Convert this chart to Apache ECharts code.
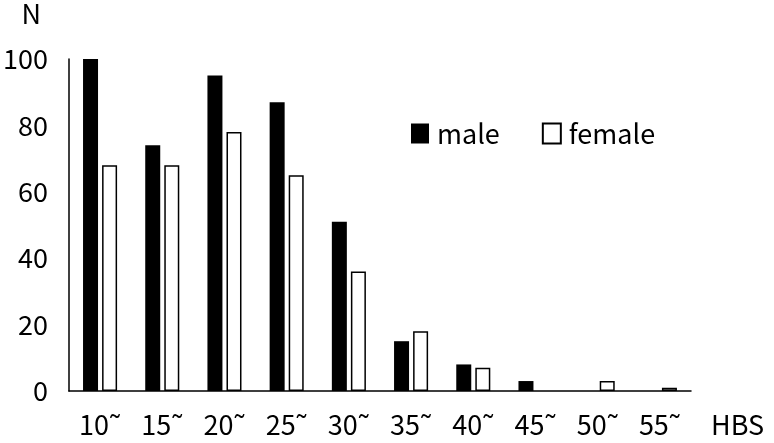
<!DOCTYPE html>
<html>
<head>
<meta charset="utf-8">
<script src="https://cdn.jsdelivr.net/npm/echarts@6/dist/echarts.min.js"></script>
<style>
  html, body { margin: 0; padding: 0; background: #fff; }
  #chart { width: 774px; height: 443px; }
</style>
</head>
<body>
<div id="chart"></div>
<script>
// HBS 区分
const categories = ['10˜', '15˜', '20˜', '25˜', '30˜', '35˜', '40˜', '45˜', '50˜', '55˜'];
const maleData = [100, 74, 95, 87, 51, 15, 8, 3, 0, 0];
const femaleData = [68, 68, 78, 65, 36, 18, 7, 0, 3, 1];
const yTicks = [0, 20, 40, 60, 80, 100];

const fontFamily = '"Noto Sans CJK JP", "Noto Sans", sans-serif';
// 0 は棒を描かない
const noZero = arr => arr.map(v => (v === 0 ? '-' : v));

let chart = echarts.init(document.getElementById('chart'));
chart.setOption({
  animation: false,
  backgroundColor: '#fff',
  textStyle: { fontFamily: fontFamily, color: '#000' },
  legend: {
    data: ['male', 'female'],
    left: 406,
    top: 115,
    icon: 'rect',
    itemWidth: 18,
    itemHeight: 20,
    itemGap: 42,
    textStyle: { fontSize: 27, color: '#000', fontFamily: fontFamily, padding: [0, 0, 0, 3] }
  },
  grid: { left: 68, right: 83, top: 59, bottom: 52 },
  xAxis: {
    type: 'category',
    data: categories,
    name: 'HBS',
    nameLocation: 'end',
    nameGap: 20,
    nameTextStyle: { fontSize: 27, color: '#000', verticalAlign: 'top', padding: [20, 0, 0, 0] },
    axisLine: { lineStyle: { color: '#000', width: 1.5 } },
    axisTick: { show: false },
    axisLabel: { fontSize: 27, color: '#000', margin: 20 }
  },
  yAxis: {
    type: 'value',
    min: 0,
    max: 100,
    interval: 20,
    name: 'N',
    nameLocation: 'end',
    nameGap: 32,
    nameTextStyle: { fontSize: 27, color: '#000', align: 'right', padding: [0, 28, 0, 0] },
    axisLine: { show: true, lineStyle: { color: '#000', width: 1.5 } },
    axisTick: { show: false },
    splitLine: { show: false },
    axisLabel: {
      fontSize: 27,
      color: '#000',
      margin: 21,
      formatter: function (v) { return yTicks.indexOf(v) >= 0 ? String(v) : ''; }
    }
  },
  series: [
    {
      name: 'male',
      type: 'bar',
      data: noZero(maleData),
      barWidth: 15,
      barGap: '27%',
      itemStyle: { color: '#000' }
    },
    {
      name: 'female',
      type: 'bar',
      data: noZero(femaleData),
      barWidth: 15,
      itemStyle: { color: '#fff', borderColor: '#000', borderWidth: 1.5 }
    }
  ]
});
</script>
</body>
</html>
